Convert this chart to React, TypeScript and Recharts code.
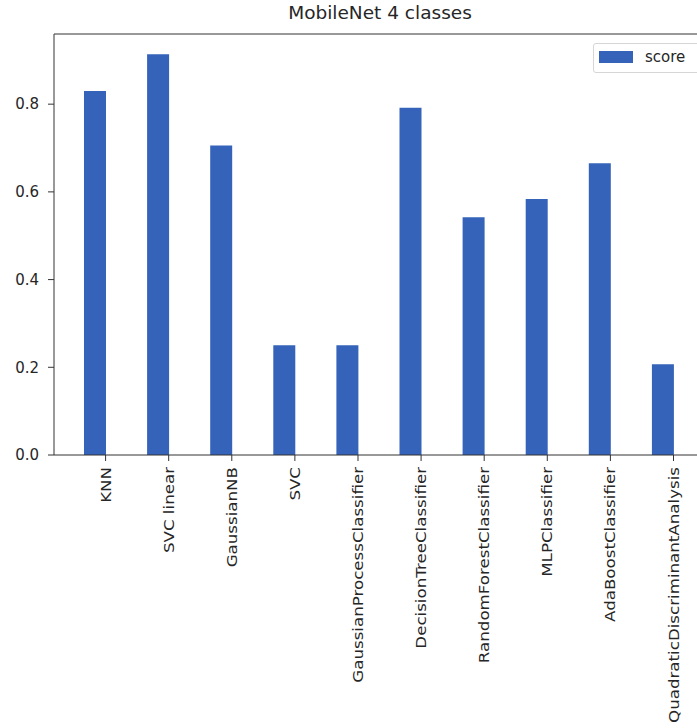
import React from 'react';
import { BarChart, Bar, XAxis, YAxis, ReferenceLine } from 'recharts';

const categories = [
  'KNN',
  'SVC linear',
  'GaussianNB',
  'SVC',
  'GaussianProcessClassifier',
  'DecisionTreeClassifier',
  'RandomForestClassifier',
  'MLPClassifier',
  'AdaBoostClassifier',
  'QuadraticDiscriminantAnalysis',
];

const scores = [0.83, 0.914, 0.706, 0.25, 0.25, 0.792, 0.542, 0.584, 0.665, 0.207];

const yTicks = [0, 0.2, 0.4, 0.6, 0.8];

// matplotlib-style bar offset: bars of width 0.35 sit just left of their tick
const BAR_WIDTH = 0.35;
const data = categories.map((name, i) => ({
  name,
  pos: i - BAR_WIDTH / 2,
  score: scores[i],
}));
const xTicks = categories.map((_, i) => i);

const Y_MAX = 0.96;
const FONT = '"DejaVu Sans", sans-serif';
const TEXT = '#262626';
const BLUE = '#3563B9';

const XTick = (props: any) => {
  const { x, y, payload } = props;
  return (
    <text
      transform={`translate(${x},${y}) rotate(-90) scale(1.15,1)`}
      textAnchor="end"
      dy="0.35em"
      fontSize={14.5}
      fontFamily={FONT}
      fill={TEXT}
    >
      {categories[payload.value]}
    </text>
  );
};

export default function App() {
  return (
    <div
      style={{
        position: 'absolute',
        left: 0,
        top: 0,
        width: 697,
        height: 728,
        overflow: 'hidden',
        background: 'white',
      }}
    >
      <div
        style={{
          position: 'absolute',
          left: 0,
          width: 760,
          top: 1,
          textAlign: 'center',
          fontFamily: FONT,
          fontSize: 18.5,
          color: TEXT,
          lineHeight: '24px',
        }}
      >
        MobileNet 4 classes
      </div>
      <BarChart
        width={720}
        height={728}
        data={data}
        margin={{ top: 34, right: 17, bottom: 0, left: 0 }}
        barCategoryGap={0}
      >
        <XAxis
          type="number"
          dataKey="pos"
          domain={[-0.8175, 9.4675]}
          allowDataOverflow
          ticks={xTicks}
          interval={0}
          height={273}
          tickSize={6}
          tickMargin={6}
          tick={<XTick />}
          tickLine={{ stroke: '#333' }}
          axisLine={{ stroke: '#333', strokeWidth: 1 }}
        />
        <YAxis
          type="number"
          domain={[0, Y_MAX]}
          ticks={yTicks}
          width={54}
          tickSize={6}
          tickMargin={9}
          tickFormatter={(v: number) => v.toFixed(1)}
          tick={{ fontSize: 15, fontFamily: FONT, fill: TEXT }}
          tickLine={{ stroke: '#333' }}
          axisLine={{ stroke: '#333', strokeWidth: 1 }}
        />
        <ReferenceLine y={Y_MAX} stroke="#333" strokeWidth={1} ifOverflow="visible" />
        <Bar dataKey="score" fill={BLUE} barSize={22} isAnimationActive={false} />
      </BarChart>
      <div
        style={{
          position: 'absolute',
          left: 593,
          top: 43,
          width: 120,
          height: 30,
          border: '1px solid #d6d6d6',
          borderRadius: 3,
          background: 'white',
          boxSizing: 'border-box',
          fontFamily: FONT,
        }}
      >
        <div style={{ position: 'absolute', left: 5, top: 7, width: 34, height: 12, background: BLUE }} />
        <div style={{ position: 'absolute', left: 51, top: 3, fontSize: 15, color: TEXT, lineHeight: '20px' }}>
          score
        </div>
      </div>
    </div>
  );
}
